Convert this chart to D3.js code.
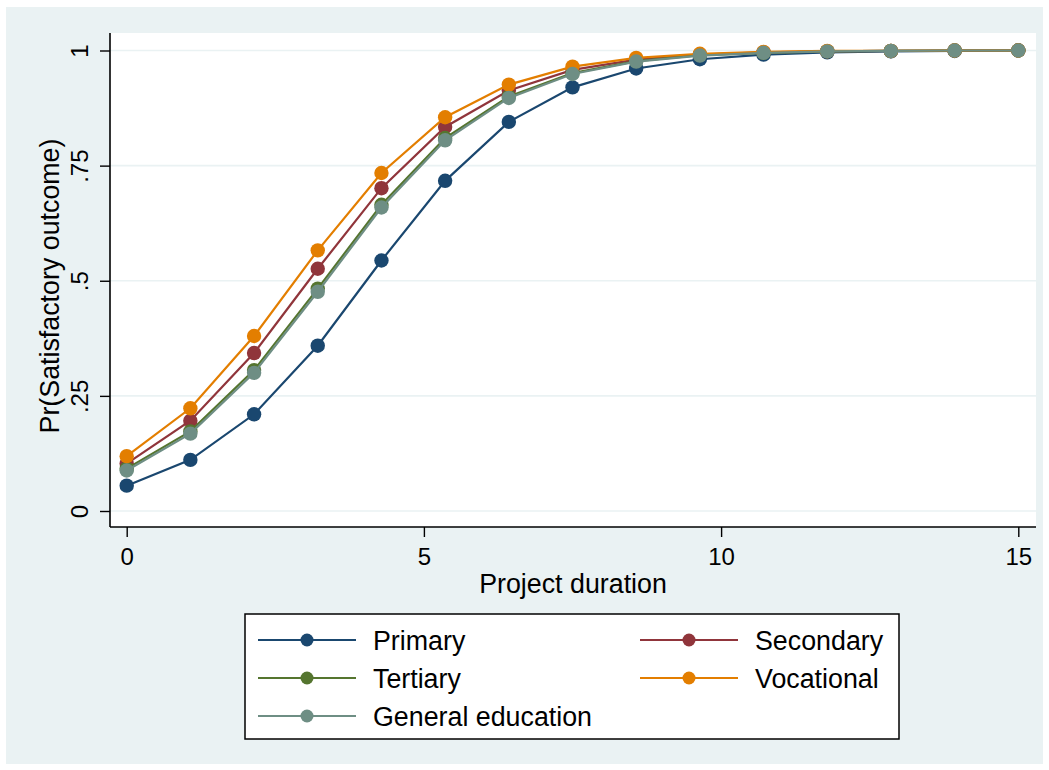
<!DOCTYPE html>
<html>
<head>
<meta charset="utf-8">
<script src="https://cdn.jsdelivr.net/npm/d3@7"></script>
<style>
  body { margin: 0; background: #fff; }
  text { font-family: "Liberation Sans", Arial, sans-serif; fill: #000; }
</style>
</head>
<body>
<svg id="chart"></svg>
<script>
// Data
const durations = [0, 1.071, 2.143, 3.214, 4.286, 5.357, 6.429, 7.5, 8.571, 9.643, 10.714, 11.786, 12.857, 13.929, 15];
const primary    = [0.055, 0.111, 0.210, 0.359, 0.544, 0.717, 0.845, 0.920, 0.961, 0.981, 0.991, 0.996, 0.998, 0.999, 1.0];
const secondary  = [0.103, 0.196, 0.343, 0.526, 0.701, 0.834, 0.913, 0.958, 0.980, 0.991, 0.996, 0.998, 0.999, 1.0, 1.0];
const tertiary   = [0.092, 0.173, 0.306, 0.483, 0.665, 0.810, 0.900, 0.951, 0.977, 0.990, 0.995, 0.998, 0.999, 1.0, 1.0];
const vocational = [0.119, 0.223, 0.380, 0.566, 0.734, 0.855, 0.926, 0.965, 0.984, 0.993, 0.997, 0.999, 0.999, 1.0, 1.0];
const generalEd  = [0.088, 0.168, 0.300, 0.476, 0.659, 0.805, 0.897, 0.949, 0.976, 0.989, 0.995, 0.998, 0.999, 1.0, 1.0];

const seriesNames = ["Primary", "Secondary", "Tertiary", "Vocational", "General education"];
const seriesValues = [primary, secondary, tertiary, vocational, generalEd];
const colors = ["#1a476f", "#90353b", "#55752f", "#e37e00", "#6e8e84"];

const xTicks = [0, 5, 10, 15];
const yTicks = [0, 0.25, 0.5, 0.75, 1];
const yTickLabels = ["0", ".25", ".5", ".75", "1"];

const W = 1049, H = 770;
const svg = d3.select("#chart").attr("width", W).attr("height", H);

// outer graph region
svg.append("rect").attr("x", 6).attr("y", 7).attr("width", 1037).attr("height", 757)
  .attr("fill", "#eaf2f3");

const plot = {left: 110, right: 1036, top: 33, bottom: 527};
svg.append("rect")
  .attr("x", plot.left).attr("y", plot.top)
  .attr("width", plot.right - plot.left).attr("height", plot.bottom - plot.top)
  .attr("fill", "#fff");

const x = d3.scaleLinear().domain([0, 15]).range([126.7, 1018.3]);
const y = d3.scaleLinear().domain([0, 1]).range([511, 50.5]);

// gridlines
svg.append("g").selectAll("line").data(yTicks).join("line")
  .attr("x1", plot.left).attr("x2", plot.right)
  .attr("y1", d => y(d)).attr("y2", d => y(d))
  .attr("stroke", "#eaf2f3").attr("stroke-width", 1.6);

// y axis
const yAxis = svg.append("g").attr("transform", `translate(${plot.left},0)`)
  .call(d3.axisLeft(y).tickValues(yTicks).tickSize(10).tickFormat((d, i) => yTickLabels[i]));
yAxis.select(".domain").attr("d", `M0,${plot.top}V${plot.bottom}`).attr("stroke", "#000").attr("stroke-width", 1.6);
yAxis.selectAll(".tick line").attr("stroke", "#000").attr("stroke-width", 1.4);
yAxis.selectAll(".tick text")
  .attr("x", 0).attr("y", 0).attr("dy", 0)
  .attr("transform", "translate(-22,0) rotate(-90)")
  .attr("text-anchor", "middle")
  .style("font-size", "24px").style("font-family", "Liberation Sans, Arial, sans-serif");

// x axis
const xAxis = svg.append("g").attr("transform", `translate(0,${plot.bottom})`)
  .call(d3.axisBottom(x).tickValues(xTicks).tickSize(10).tickFormat(d3.format("d")));
xAxis.select(".domain").attr("d", `M${plot.left},0H${plot.right}`).attr("stroke", "#000").attr("stroke-width", 1.6);
xAxis.selectAll(".tick line").attr("stroke", "#000").attr("stroke-width", 1.4);
xAxis.selectAll(".tick text")
  .attr("y", 38).attr("dy", 0)
  .style("font-size", "24px").style("font-family", "Liberation Sans, Arial, sans-serif");

// axis titles
svg.append("text")
  .attr("x", (plot.left + plot.right) / 2).attr("y", 593)
  .attr("text-anchor", "middle").style("font-size", "26.8px")
  .text("Project duration");
svg.append("text")
  .attr("transform", "translate(59,286) rotate(-90)")
  .attr("text-anchor", "middle").style("font-size", "26.8px")
  .text("Pr(Satisfactory outcome)");

// series
const line = d3.line().x((d, i) => x(durations[i])).y(d => y(d));
seriesValues.forEach((vals, k) => {
  const g = svg.append("g");
  g.append("path").datum(vals)
    .attr("fill", "none").attr("stroke", colors[k]).attr("stroke-width", 2.2)
    .attr("d", line);
  g.selectAll("circle").data(vals).join("circle")
    .attr("cx", (d, i) => x(durations[i])).attr("cy", d => y(d))
    .attr("r", 7.2).attr("fill", colors[k]);
});

// legend
const legend = svg.append("g");
legend.append("rect").attr("x", 245).attr("y", 614).attr("width", 654).attr("height", 125)
  .attr("fill", "#fff").attr("stroke", "#000").attr("stroke-width", 1.5);
const legPos = [[258, 640], [640, 640], [258, 678], [640, 678], [258, 716]];
seriesNames.forEach((name, k) => {
  const [lx, ly] = legPos[k];
  legend.append("line").attr("x1", lx).attr("x2", lx + 98).attr("y1", ly).attr("y2", ly)
    .attr("stroke", colors[k]).attr("stroke-width", 2.2);
  legend.append("circle").attr("cx", lx + 49).attr("cy", ly).attr("r", 6.5).attr("fill", colors[k]);
  legend.append("text").attr("x", lx + 115).attr("y", ly + 9.5)
    .style("font-size", "26.8px").text(name);
});
</script>
</body>
</html>
